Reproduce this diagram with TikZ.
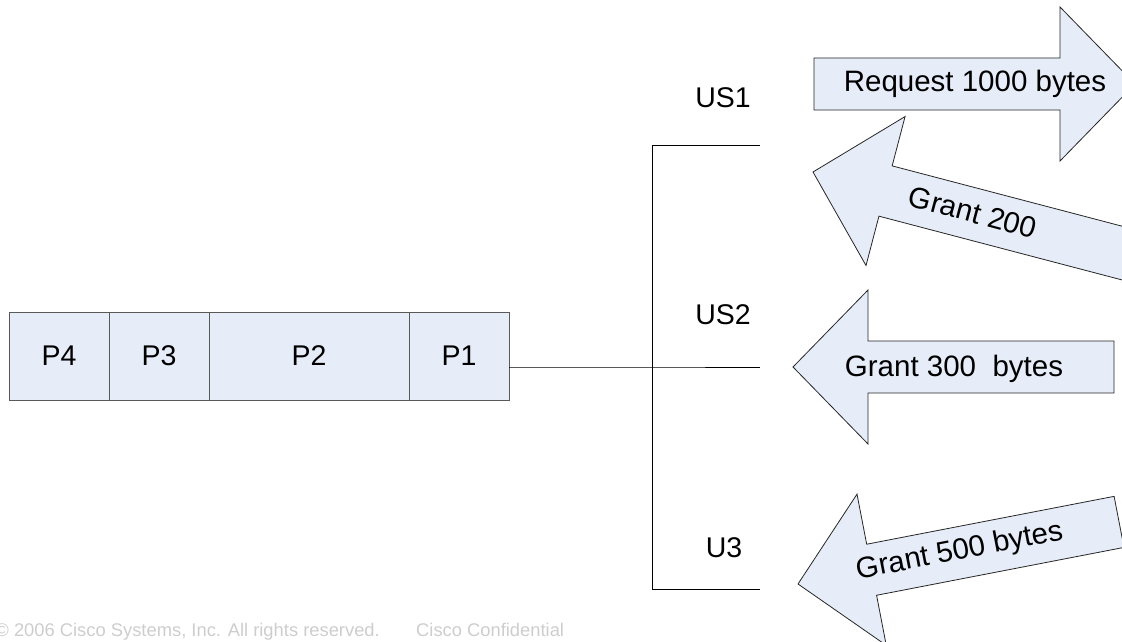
\documentclass[tikz,border=0pt]{standalone}
\usepackage{fontspec}
\setmainfont{Liberation Sans}
\usetikzlibrary{positioning}
\definecolor{fillblue}{RGB}{230,236,248}
\definecolor{footgray}{RGB}{205,205,205}
\tikzset{
  pbox/.style={draw=black!65,fill=fillblue,line width=0.8pt,minimum height=88pt,
    outer sep=0pt,inner sep=0pt,font=\fontsize{28.5}{34}\selectfont},
  lbl/.style={inner sep=0pt,text height=20.5pt,text depth=0pt,font=\fontsize{28.5}{34}\selectfont},
  fat/.style={draw=black!85,fill=fillblue,line width=0.8pt},
  fattext/.style={inner sep=0pt,text height=21pt,text depth=0pt,font=\fontsize{29.5}{35}\selectfont},
  foot/.style={inner sep=0pt,text=footgray,font=\fontsize{18.35}{22}\selectfont}
}
% block arrow: tip, turn, shaft length
\newcommand{\fatarrow}[3]{%
  \draw[fat,shift={#1},rotate=#2](0,0)--(-75,77)--(-75,26)--({-75-#3},26)
    --({-75-#3},-26)--(-75,-26)--(-75,-77)--cycle;}
\begin{document}
\begin{tikzpicture}[x=1pt,y=1pt]
\useasboundingbox(0,0)rectangle(1122,642);
% packet queue
\node[pbox,minimum width=100pt](P4)at(59,286){P4};
\node[pbox,minimum width=100pt,right=0pt of P4](P3){P3};
\node[pbox,minimum width=200pt,right=0pt of P3](P2){P2};
\node[pbox,minimum width=100pt,right=0pt of P2](P1){P1};
% cable tree
\coordinate(hub)at(652,275);
\coordinate(top)at(652,497);
\coordinate(bot)at(652,53);
\coordinate(us1end)at(760,497);
\coordinate(us2end)at(760,275);
\coordinate(us3end)at(760,53);
\draw[line width=0.8pt](P1.east|-hub)--(hub)--(us2end);
\draw[line width=0.8pt](us1end)--(top)--(bot)--(us3end);
\node[lbl](US1)at(723,545){US1};
\node[lbl](US2)at(723,328){US2};
\node[lbl](U3)at(724,95){U3};
% requests and grants
\fatarrow{(1135,558)}{0}{246}
\node[fattext](req)at(975,561){Request 1000 bytes};
\fatarrow{(813,470)}{165.3}{260}
\node[fattext,rotate=-15](g200)at(973,430){Grant 200};
\fatarrow{(793,275)}{180}{246}
\node[fattext](g300)at(954,275.5){Grant 300~~bytes};
\fatarrow{(798,58)}{190.95}{252}
\node[fattext,rotate=11](g500)at(959,93){Grant 500 bytes};
% footer
\node[foot,anchor=base east](copy)at(380,5){\textcopyright{} 2006 Cisco Systems, Inc. All rights reserved.};
\node[foot,anchor=base west](conf)at(416,5){Cisco Confidential};
\end{tikzpicture}
\end{document}
